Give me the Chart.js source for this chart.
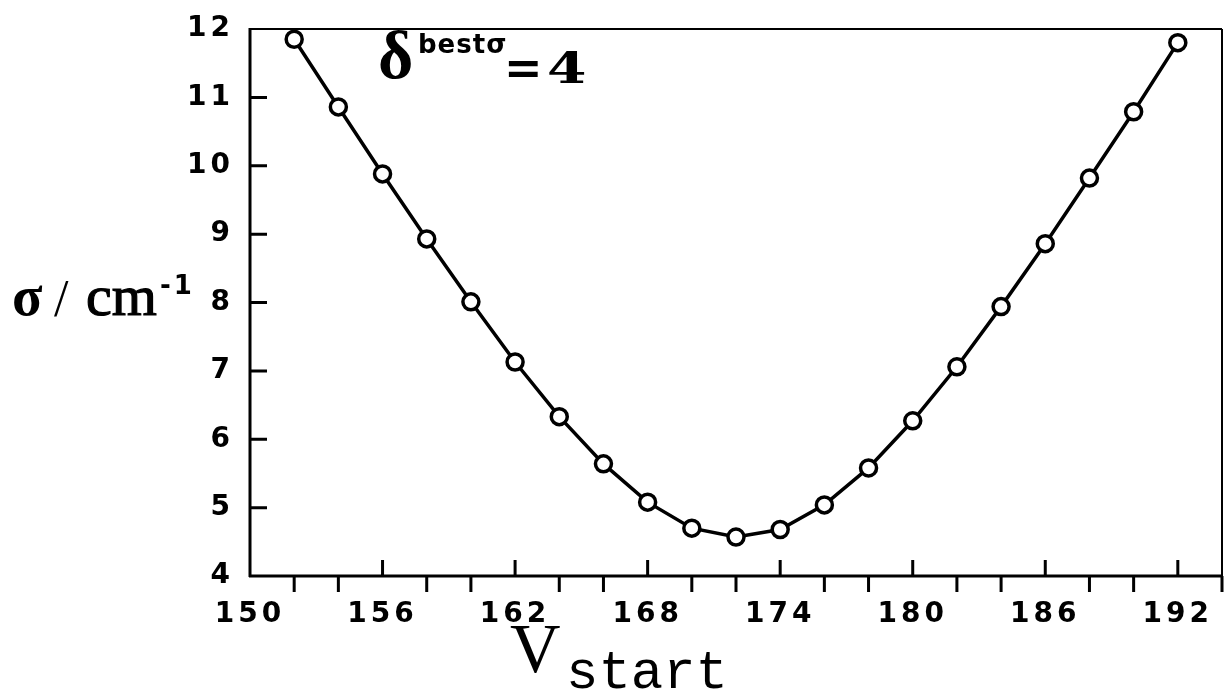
<!DOCTYPE html>
<html>
<head>
<meta charset="utf-8">
<script src="https://cdn.jsdelivr.net/npm/chart.js@4"></script>
<style>
  html, body { margin: 0; padding: 0; background: #fff; }
  #wrap { width: 1225px; height: 694px; }
</style>
</head>
<body>
<div id="wrap"><canvas id="chart-sigma" width="1225" height="694"></canvas></div>
<script>
// V_start values and the fitted sigma (cm^-1) at each one
const vStart = [152, 154, 156, 158, 160, 162, 164, 166, 168, 170, 172,
                174, 176, 178, 180, 182, 184, 186, 188, 190, 192];
const sigma = [11.85, 10.86, 9.88, 8.93, 8.01, 7.13, 6.33, 5.64, 5.08, 4.70, 4.57,
               4.68, 5.04, 5.58, 6.27, 7.06, 7.94, 8.86, 9.82, 10.79, 11.80];
const xLabels = [150, 156, 162, 168, 174, 180, 186, 192];
const yLabels = [4, 5, 6, 7, 8, 9, 10, 11, 12];

const tickFont = { family: 'DejaVu Sans', size: 28, weight: 'bold' };

// wide tick lettering, re-applied after every canvas reset
const spacing = {
	id: 'spacing',
	beforeLayout(chart) { chart.ctx.letterSpacing = '4px'; },
	beforeDraw(chart) { chart.ctx.letterSpacing = '4px'; }
};

// boxed frame with inward ticks, outward minor ticks on the V axis
const frame = {
	id: 'frame',
	beforeDatasetsDraw(chart) {
		const { ctx, chartArea: a, scales: { x, y } } = chart;
		ctx.save();
		ctx.strokeStyle = '#000';
		ctx.lineCap = 'butt';
		ctx.lineWidth = 2;
		ctx.beginPath();
		ctx.moveTo(a.left, a.top); ctx.lineTo(a.right, a.top);
		ctx.moveTo(a.right, a.top); ctx.lineTo(a.right, a.bottom);
		ctx.stroke();
		ctx.lineWidth = 3;
		ctx.beginPath();
		ctx.moveTo(a.left, a.top - 1); ctx.lineTo(a.left, a.bottom + 1);
		ctx.moveTo(a.left - 1, a.bottom); ctx.lineTo(a.right + 1, a.bottom);
		for (let v = 5; v <= 11; v++) {
			const py = y.getPixelForValue(v);
			ctx.moveTo(a.left, py); ctx.lineTo(a.left + 17, py);
		}
		for (let v = 152; v <= 194; v += 2) {
			const px = x.getPixelForValue(v);
			if ((v - 150) % 6 === 0) {
				ctx.moveTo(px, a.bottom); ctx.lineTo(px, a.bottom - 16);
			} else {
				ctx.moveTo(px, a.bottom); ctx.lineTo(px, a.bottom + 16);
			}
		}
		ctx.stroke();
		ctx.restore();
	},
	afterDraw(chart) {
		const ctx = chart.ctx;
		ctx.save();
		ctx.fillStyle = '#000';
		ctx.strokeStyle = '#000';
		ctx.textBaseline = 'alphabetic';
		ctx.textAlign = 'left';
		ctx.letterSpacing = '0px';

		// sigma / cm^-1
		ctx.font = 'bold 56px "Liberation Serif"';
		ctx.fillText('σ', 12, 315);
		ctx.font = '52px "Liberation Serif"';
		ctx.fillText('/', 54, 316);
		ctx.font = '58px "Liberation Serif"';
		ctx.lineWidth = 1.2;
		ctx.fillText('cm', 86, 315);
		ctx.strokeText('cm', 86, 315);
		ctx.font = 'bold 26px "DejaVu Sans"';
		ctx.letterSpacing = '3px';
		ctx.fillText('-1', 160, 294);
		ctx.letterSpacing = '0px';

		// V_start
		ctx.font = '70px "Liberation Serif"';
		ctx.fillText('V', 510, 672);
		ctx.font = '54px "Liberation Mono"';
		ctx.fillText('start', 566, 688);

		// delta^{best sigma} = 4
		ctx.font = 'bold 68px "Liberation Serif"';
		ctx.fillText('δ', 378, 78);
		ctx.letterSpacing = '1px';
		ctx.font = 'bold 26px "DejaVu Sans"';
		ctx.fillText('bestσ', 418, 53);
		ctx.letterSpacing = '0px';
		ctx.font = 'bold 46px "DejaVu Sans"';
		ctx.fillText('=', 504, 84);
		ctx.translate(547, 83);
		ctx.scale(1.35, 1);
		ctx.font = 'bold 42px "DejaVu Serif"';
		ctx.fillText('4', 0, 0);
		ctx.restore();
	}
};

const ctx = document.getElementById('chart-sigma').getContext('2d');
const sigmaChart = new Chart(ctx, {
	type: 'line',
	data: {
		datasets: [{
			data: vStart.map((v, i) => ({ x: v, y: sigma[i] })),
			borderColor: '#000',
			borderWidth: 3.5,
			tension: 0,
			clip: false,
			pointRadius: 8,
			pointBorderWidth: 3.5,
			pointBorderColor: '#000',
			pointBackgroundColor: '#fff'
		}]
	},
	options: {
		responsive: false,
		animation: false,
		events: [],
		layout: { autoPadding: false, padding: { top: 29, right: 3, left: 0, bottom: 0 } },
		plugins: { legend: { display: false }, tooltip: { enabled: false } },
		scales: {
			x: {
				type: 'linear',
				min: 150,
				max: 194,
				grid: { display: false },
				border: { display: false },
				afterFit: s => {
					s.height = 118;
					s.paddingLeft = 0;
					s.paddingRight = 0;
				},
				ticks: {
					stepSize: 2,
					autoSkip: false,
					maxRotation: 0,
					padding: 14,
					color: '#000',
					font: tickFont,
					callback: v => xLabels.includes(v) ? String(v) : ''
				}
			},
			y: {
				min: 4,
				max: 12,
				grid: { display: false },
				border: { display: false },
				afterFit: s => {
					s.width = 250;
					s.paddingTop = 0;
					s.paddingBottom = 0;
				},
				ticks: {
					stepSize: 1,
					autoSkip: false,
					padding: 8,
					color: '#000',
					font: tickFont,
					callback: v => yLabels.includes(v) ? String(v) : ''
				}
			}
		}
	},
	plugins: [spacing, frame]
});
</script>
</body>
</html>
